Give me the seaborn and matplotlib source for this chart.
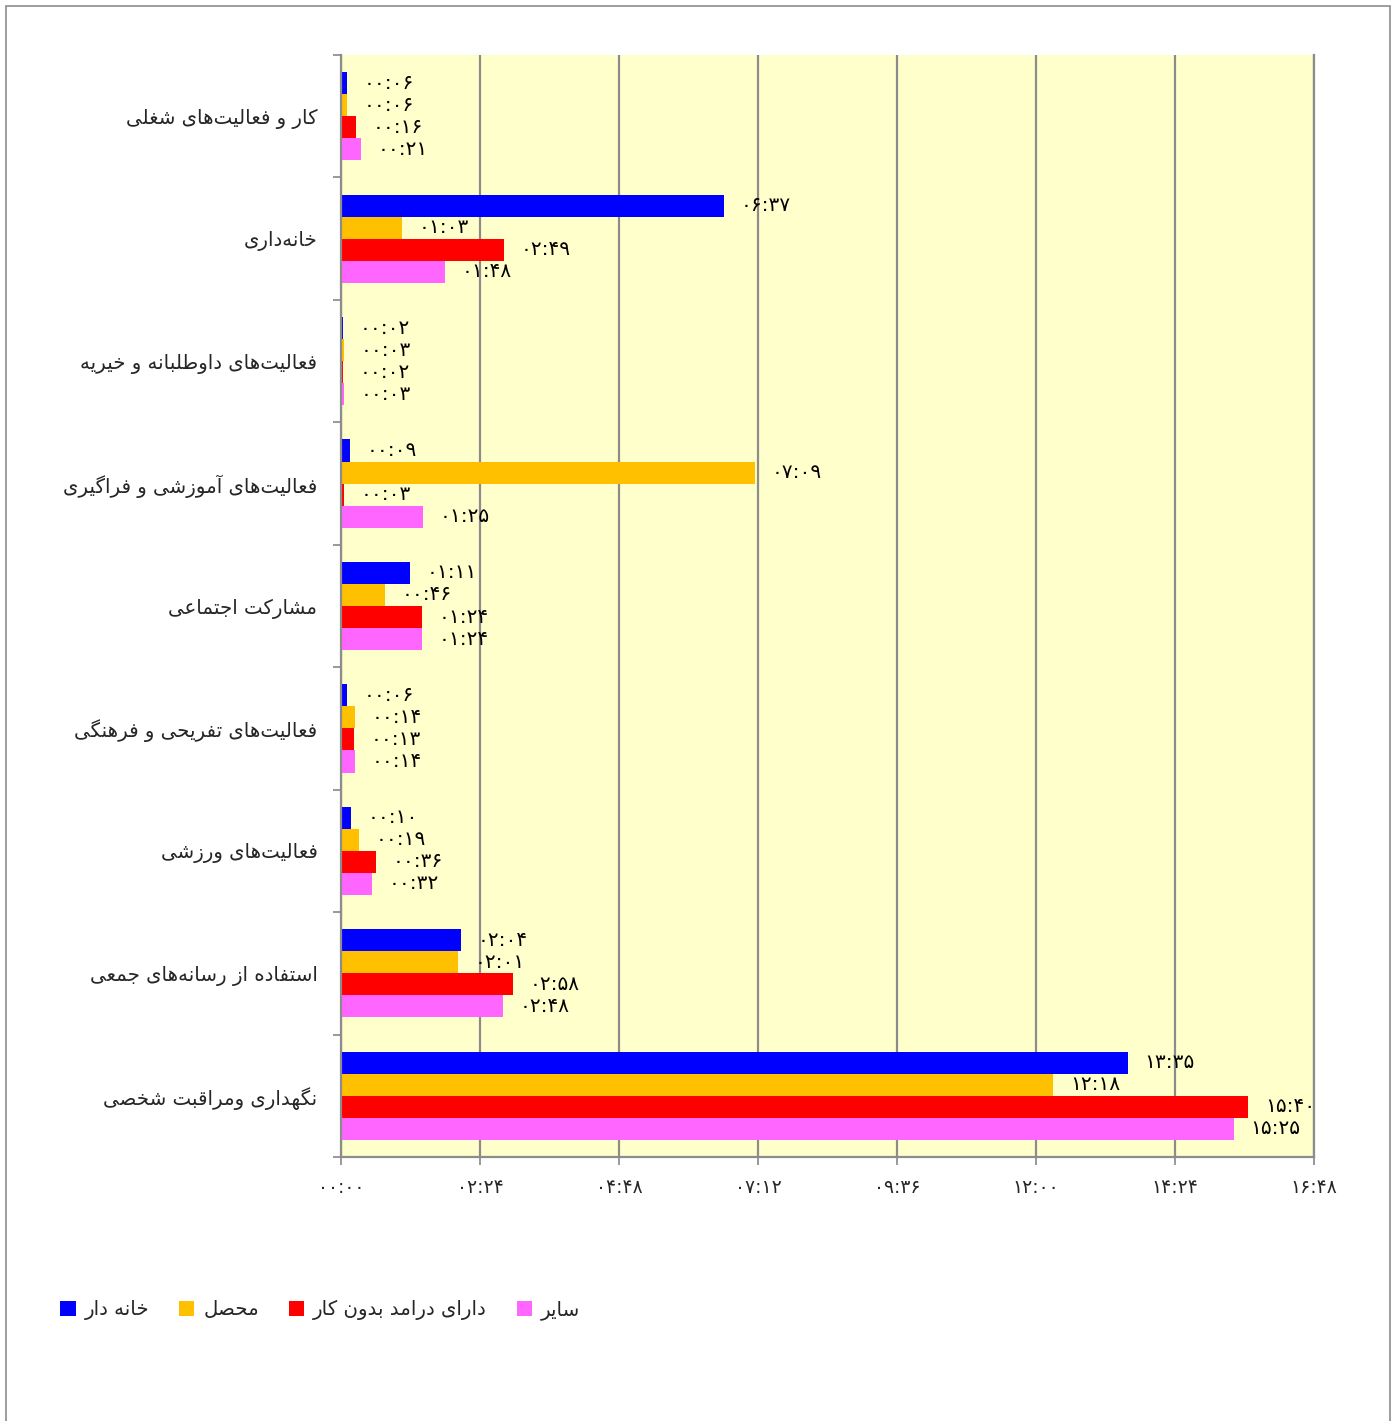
import matplotlib
matplotlib.use("Agg")
import matplotlib.pyplot as plt
from matplotlib.patches import Patch, Rectangle
from matplotlib.ticker import FixedLocator
import seaborn as sns
import pandas as pd

# ---------------- data (minutes) ----------------
categories = [
    "کار و فعالیت‌های شغلی",
    "خانه‌داری",
    "فعالیت‌های داوطلبانه و خیریه",
    "فعالیت‌های آموزشی و فراگیری",
    "مشارکت اجتماعی",
    "فعالیت‌های تفریحی و فرهنگی",
    "فعالیت‌های ورزشی",
    "استفاده از رسانه‌های جمعی",
    "نگهداری ومراقبت شخصی",
]
series_names = ["خانه دار", "محصل", "دارای درامد بدون کار", "سایر"]
khanedar = [6, 397, 2, 9, 71, 6, 10, 124, 815]
mohassel = [6, 63, 3, 429, 46, 14, 19, 121, 738]
daramad = [16, 169, 2, 3, 84, 13, 36, 178, 940]
sayer = [21, 108, 3, 85, 84, 14, 32, 168, 925]
x_ticks = [0, 144, 288, 432, 576, 720, 864, 1008]
colors = ["#0000FF", "#FFC000", "#FF0000", "#FF66FF"]

# ---------------- minimal Persian shaping ----------------
DUAL = set("بتثجحخسشصضطظعغفقکگلمنهیئپچ")
RIGHT = set("اآدذرزژوةأإؤ")
FORMS = {
    "ا": (0xFE8D, 0xFE8E, None, None), "آ": (0xFE81, 0xFE82, None, None),
    "ب": (0xFE8F, 0xFE90, 0xFE91, 0xFE92), "ت": (0xFE95, 0xFE96, 0xFE97, 0xFE98),
    "ج": (0xFE9D, 0xFE9E, 0xFE9F, 0xFEA0), "ح": (0xFEA1, 0xFEA2, 0xFEA3, 0xFEA4),
    "خ": (0xFEA5, 0xFEA6, 0xFEA7, 0xFEA8), "د": (0xFEA9, 0xFEAA, None, None),
    "ر": (0xFEAD, 0xFEAE, None, None), "ز": (0xFEAF, 0xFEB0, None, None),
    "س": (0xFEB1, 0xFEB2, 0xFEB3, 0xFEB4), "ش": (0xFEB5, 0xFEB6, 0xFEB7, 0xFEB8),
    "ص": (0xFEB9, 0xFEBA, 0xFEBB, 0xFEBC), "ط": (0xFEC1, 0xFEC2, 0xFEC3, 0xFEC4),
    "ع": (0xFEC9, 0xFECA, 0xFECB, 0xFECC), "غ": (0xFECD, 0xFECE, 0xFECF, 0xFED0),
    "ف": (0xFED1, 0xFED2, 0xFED3, 0xFED4), "ق": (0xFED5, 0xFED6, 0xFED7, 0xFED8),
    "ل": (0xFEDD, 0xFEDE, 0xFEDF, 0xFEE0), "م": (0xFEE1, 0xFEE2, 0xFEE3, 0xFEE4),
    "ن": (0xFEE5, 0xFEE6, 0xFEE7, 0xFEE8), "ه": (0xFEE9, 0xFEEA, 0xFEEB, 0xFEEC),
    "و": (0xFEED, 0xFEEE, None, None), "ک": (0xFB8E, 0xFB8F, 0xFB90, 0xFB91),
    "گ": (0xFB92, 0xFB93, 0xFB94, 0xFB95), "ی": (0xFBFC, 0xFBFD, 0xFBFE, 0xFBFF),
}


def shape(s):
    out = []
    n = len(s)
    for i, c in enumerate(s):
        if c == "\u200c":
            continue
        if c not in FORMS:
            out.append(c)
            continue
        prev = s[i - 1] if i > 0 else ""
        nxt = s[i + 1] if i + 1 < n else ""
        cp = prev in DUAL
        cn = (c in DUAL) and (nxt in DUAL or nxt in RIGHT)
        iso, fin, ini, med = FORMS[c]
        if cp and cn:
            g = med
        elif cp:
            g = fin
        elif cn:
            g = ini
        else:
            g = iso
        out.append(chr(g))
    return "".join(reversed(out))


FA_DIG = str.maketrans("0123456789", "۰۱۲۳۴۵۶۷۸۹")


def hhmm(m):
    return f"{int(m) // 60:02d}:{int(m) % 60:02d}".translate(FA_DIG)


# ---------------- data frame ----------------
rows = []
for name, vals in zip(series_names, [khanedar, mohassel, daramad, sayer]):
    for cat, v in zip(categories, vals):
        rows.append({"category": cat, "group": name, "minutes": v})
df = pd.DataFrame(rows)

sns.set_theme(style="white")
plt.rcParams["font.family"] = ["DejaVu Sans"]

fig = plt.figure(figsize=(13.97, 14.21), dpi=100)
fig.patch.set_facecolor("white")
W, H = 1397, 1421
ax = fig.add_axes([341 / W, 1 - 1157 / H, (1314 - 341) / W, (1157 - 55) / H])
ax.set_facecolor("#FFFFCC")

sns.barplot(data=df, y="category", x="minutes", hue="group", orient="h",
            order=categories, hue_order=series_names, palette=colors,
            width=0.72, saturation=1, edgecolor="none", linewidth=0,
            legend=False, ax=ax, errorbar=None)

ax.set_xlim(0, 1008)
ax.set_ylim(len(categories) - 0.5, -0.5)
ax.set_xticks(x_ticks)
ax.set_xticklabels([hhmm(t) for t in x_ticks], fontsize=13.5)
ax.set_yticks(range(len(categories)))
ax.set_yticklabels([shape(c) for c in categories], fontsize=14.2)
ax.yaxis.set_minor_locator(FixedLocator([i - 0.5 for i in range(len(categories) + 1)]))
ax.tick_params(axis="y", which="major", length=0, pad=17)
ax.tick_params(axis="y", which="minor", length=6, width=1.2, color="#888888", direction="out", left=True)
ax.tick_params(axis="x", which="major", length=6, width=1.2, color="#888888", direction="out",
               bottom=True, pad=9)
ax.set_xlabel("")
ax.set_ylabel("")

ax.grid(axis="x", color="#8C8C8C", linewidth=1.6)
ax.grid(axis="y", visible=False)
ax.set_axisbelow(True)
ax.spines["top"].set_visible(False)
for side in ["left", "bottom", "right"]:
    ax.spines[side].set_color("#8C8C8C")
    ax.spines[side].set_linewidth(1.6)

for cont, vals in zip(ax.containers, [khanedar, mohassel, daramad, sayer]):
    ax.bar_label(cont, labels=[hhmm(v) for v in vals], padding=12, fontsize=14.5,
                 color="black", clip_on=False)

handles = [Patch(facecolor=c, edgecolor="none") for c in colors]
fig.legend(handles, [shape(s) for s in series_names], loc="center left",
           bbox_to_anchor=(42 / W, 1 - 1310 / H), ncol=4, frameon=False,
           fontsize=14.2, handlelength=0.8, handleheight=0.8, handletextpad=0.45,
           columnspacing=1.5)

fig.add_artist(Rectangle((6 / W, -0.01), (1390 - 6) / W, 1.01 - 6 / H,
                         transform=fig.transFigure, fill=False,
                         edgecolor="#8C8C8C", linewidth=1.2))

fig.savefig("out.png", dpi=100)
